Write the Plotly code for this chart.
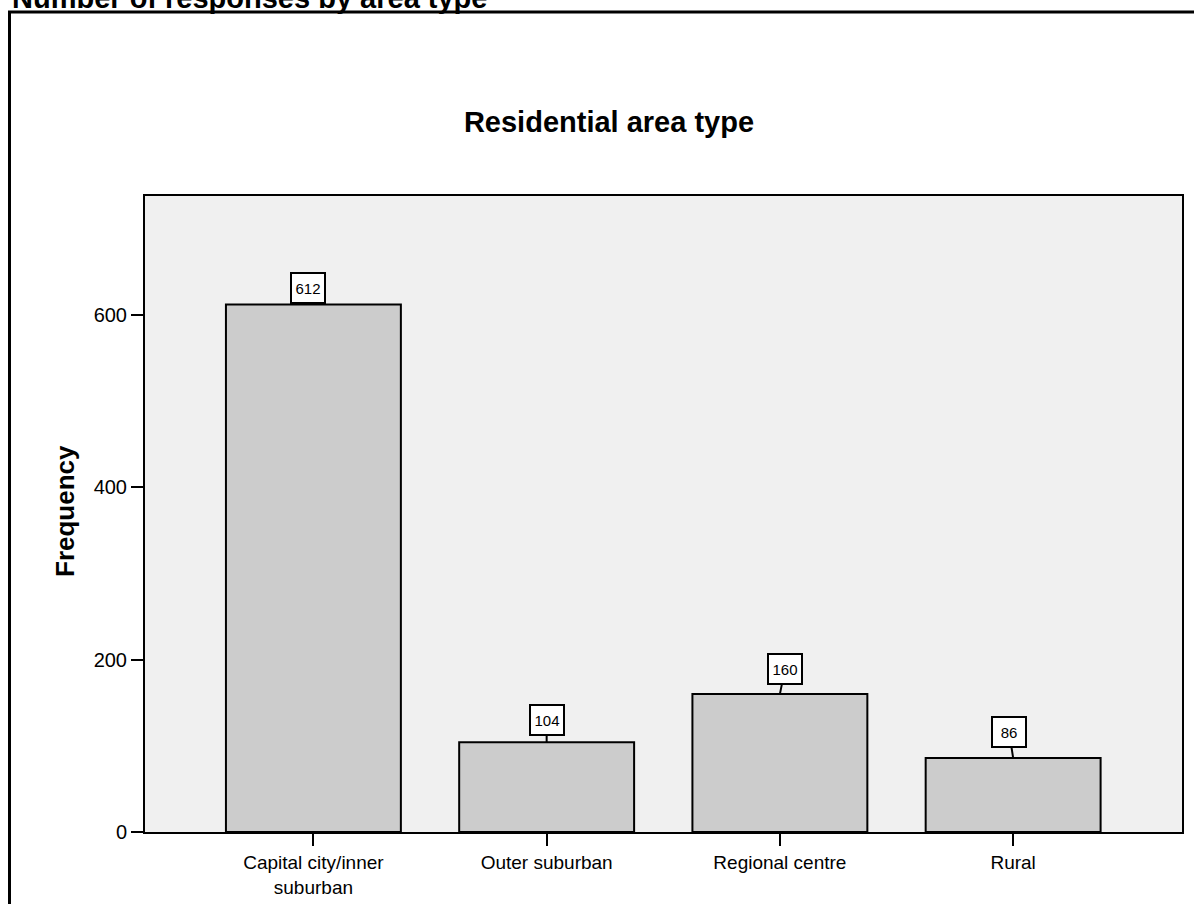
import plotly.graph_objects as go

# data
categories = ["Capital city/inner<br>suburban", "Outer suburban", "Regional centre", "Rural"]
frequencies = [612, 104, 160, 86]
y_ticks = [0, 200, 400, 600]

# styling / placement
FIG_W, FIG_H = 1194, 904
M_L, M_R, M_T, M_B = 145, 12, 196, 72
PLOT_W = FIG_W - M_L - M_R
PLOT_H = FIG_H - M_T - M_B
FONT = "Arial, Liberation Sans, sans-serif"
LABEL_OFFSETS = [(-5, -17), (0, -22), (5, -25), (-4, -26)]


def px_x(px):
    """pixel x in the figure -> paper x"""
    return (px - M_L) / PLOT_W


def px_y(py):
    """pixel y in the figure -> paper y"""
    return (FIG_H - M_B - py) / PLOT_H


x_pos = list(range(len(categories)))

fig = go.Figure()
fig.add_trace(go.Bar(
    x=x_pos, y=frequencies, width=0.75,
    marker=dict(color="#cccccc", line=dict(color="black", width=2)),
    hoverinfo="y",
))

# boxed value labels with short leader lines
for i, (x, v) in enumerate(zip(x_pos, frequencies)):
    ax, ay = LABEL_OFFSETS[i]
    fig.add_annotation(
        x=x, y=v, text=str(v), showarrow=True, arrowhead=0, arrowwidth=2,
        arrowcolor="black", ax=ax, ay=ay, standoff=0,
        bgcolor="white", bordercolor="black", borderwidth=2, borderpad=3,
        width=26, height=22, font=dict(family=FONT, size=15, color="black"),
    )

# outer frame of the output item
fig.add_shape(type="rect", xref="paper", yref="paper",
              x0=px_x(9.5), x1=px_x(1240), y0=px_y(960), y1=px_y(12),
              line=dict(color="black", width=3), fillcolor="rgba(0,0,0,0)",
              layer="below")

# heading of the output item (cut off at the top, as in the source)
fig.add_annotation(xref="paper", yref="paper", x=px_x(10), y=px_y(-2),
                   xanchor="left", yanchor="middle", showarrow=False,
                   text="<b>Number of responses by area type</b>",
                   font=dict(family=FONT, size=29, color="black"))

# y axis title
fig.add_annotation(xref="paper", yref="paper", x=px_x(65), y=px_y(511),
                   xanchor="center", yanchor="middle", showarrow=False,
                   textangle=-90, text="<b>Frequency</b>",
                   font=dict(family=FONT, size=26, color="black"))

fig.update_layout(
    width=FIG_W, height=FIG_H,
    margin=dict(l=M_L, r=M_R, t=M_T, b=M_B, autoexpand=False),
    paper_bgcolor="white", plot_bgcolor="#f0f0f0",
    showlegend=False,
    title=dict(text="<b>Residential area type</b>", x=609 / FIG_W, xref="container",
               xanchor="center", y=1 - 122 / FIG_H, yref="container", yanchor="middle",
               font=dict(family=FONT, size=29, color="black")),
    font=dict(family=FONT, color="black"),
    xaxis=dict(range=[-0.722, 3.724], tickvals=x_pos, ticktext=categories,
               ticks="outside", ticklen=12, tickwidth=2, tickcolor="black",
               showline=True, linewidth=2, linecolor="black", mirror=True,
               showgrid=False, zeroline=False,
               tickfont=dict(family=FONT, size=19, color="black")),
    yaxis=dict(range=[0, 738], tickvals=y_ticks,
               ticks="outside", ticklen=12, tickwidth=2, tickcolor="black",
               showline=True, linewidth=2, linecolor="black", mirror=True,
               showgrid=False, zeroline=False,
               tickfont=dict(family=FONT, size=20, color="black")),
)

# drop the page's default body margin so the figure sits at the window corner
fig.write_html("out.html", config={"displayModeBar": False},
               post_script="document.body.style.margin='0';")
